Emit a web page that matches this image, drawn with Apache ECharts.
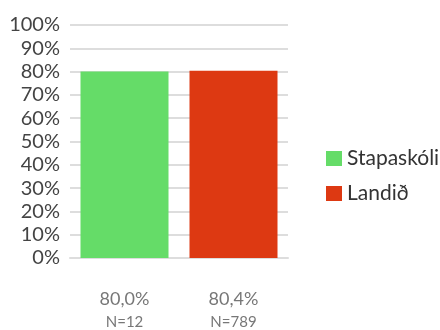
<!DOCTYPE html>
<html>
<head>
<meta charset="utf-8">
<script src="https://cdn.jsdelivr.net/npm/echarts@6/dist/echarts.min.js"></script>
<style>
  html, body { margin: 0; padding: 0; background: #fff; }
  #main { width: 440px; height: 330px; }
</style>
</head>
<body>
<div id="main"></div>
<script>
// chart data
const categories = ['Stapaskóli', 'Landið'];
const values = [80.0, 80.4];
const nCounts = [12, 789];
const colors = ['#65dc68', '#dd3912'];
const yTicks = [0, 10, 20, 30, 40, 50, 60, 70, 80, 90, 100];

function pct(v) {
  return v.toFixed(1).replace('.', ',') + '%';
}

var myChart = echarts.init(document.getElementById('main'));

var series = categories.map(function (name, i) {
  return {
    name: name,
    type: 'bar',
    barWidth: 88,
    barGap: '-100%',
    itemStyle: { color: colors[i] },
    data: categories.map(function (c, j) { return j === i ? values[i] : '-'; })
  };
});

var option = {
  animation: false,
  textStyle: { fontFamily: 'Lato' },
  grid: { left: 70, right: 152, top: 25, bottom: 72 },
  legend: {
    orient: 'vertical',
    left: 321,
    top: 143,
    icon: 'rect',
    itemWidth: 16,
    itemHeight: 15,
    itemGap: 14,
    textStyle: { fontSize: 21, color: '#333', fontFamily: 'Lato' },
    data: categories
  },
  xAxis: {
    type: 'category',
    data: categories,
    axisLine: { show: true, lineStyle: { color: '#dddddd', width: 2 } },
    axisTick: { show: false },
    axisLabel: {
      margin: 28,
      formatter: function (v, i) {
        return '{v|' + pct(values[i]) + '}\n{n|N=' + nCounts[i] + '}';
      },
      rich: {
        v: { fontSize: 18, color: '#777', lineHeight: 26, fontFamily: 'Lato' },
        n: { fontSize: 15, color: '#777', lineHeight: 20, fontFamily: 'Lato' }
      }
    }
  },
  yAxis: {
    type: 'value',
    min: yTicks[0],
    max: yTicks[yTicks.length - 1],
    interval: 10,
    axisLine: { show: false },
    axisTick: { show: false },
    axisLabel: {
      formatter: '{value}%',
      fontSize: 20,
      color: '#444',
      margin: 10,
      fontFamily: 'Lato'
    },
    splitLine: { lineStyle: { color: '#dddddd', width: 2 } }
  },
  series: series
};

myChart.setOption(option);
</script>
</body>
</html>
